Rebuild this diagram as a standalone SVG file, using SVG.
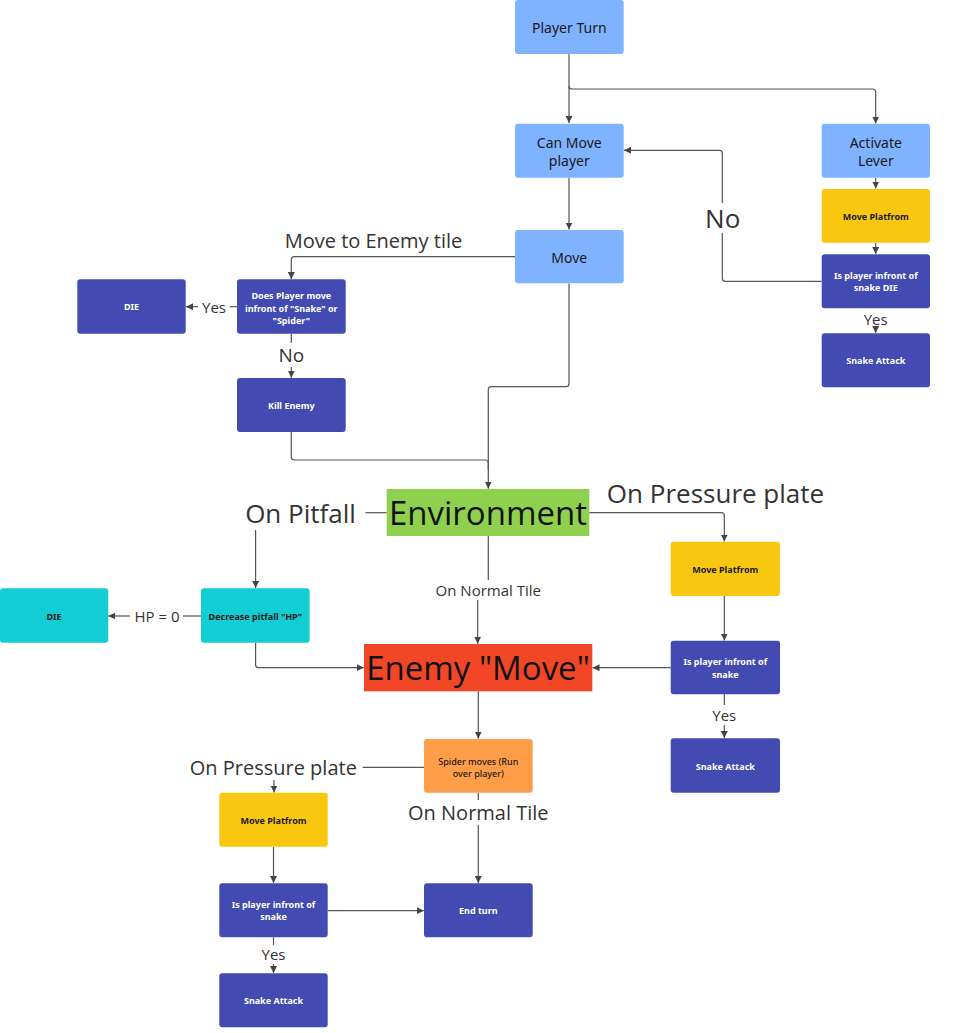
<svg xmlns="http://www.w3.org/2000/svg" width="967" height="1033" viewBox="0 0 967 1033">
<style>
.lb{fill:#80B3FF}
.db{fill:#414BB2}
.ye{fill:#FAC710}
.cy{fill:#12CDD4}
.or{fill:#FF9D48}
.gr{fill:#8FD14F}
.rd{fill:#F24726}
.t14{font-family:"Noto Sans",sans-serif;font-size:14px;fill:#1a1a1a;text-anchor:middle;dominant-baseline:central}
.sw{font-family:"Noto Sans",sans-serif;font-size:9px;font-weight:700;fill:#ffffff;text-anchor:middle;dominant-baseline:central}
.sd{font-family:"Noto Sans",sans-serif;font-size:9px;font-weight:700;fill:#1a1a1a;text-anchor:middle;dominant-baseline:central}
.sm{font-family:"Noto Sans",sans-serif;font-size:9px;font-weight:500;fill:#1a1a1a;text-anchor:middle;dominant-baseline:central}
.big{font-family:"Open Sans",sans-serif;font-size:33px;fill:#111;text-anchor:middle;dominant-baseline:central}
.lab{font-family:"Open Sans",sans-serif;fill:#333;text-anchor:middle;dominant-baseline:central}
.cn{fill:none;stroke:#555;stroke-width:1.2;stroke-linejoin:round}
</style>
<defs>
<marker id="ah" viewBox="0 0 10 10" refX="10" refY="5" markerWidth="7" markerHeight="7" markerUnits="userSpaceOnUse" orient="auto">
<path d="M0,0 L10,5 L0,10 z" fill="#444"/>
</marker>
</defs>
<rect width="967" height="1033" fill="#ffffff"/>

<g id="connectors">
<path class="cn" d="M569,54 V123" marker-end="url(#ah)"/>
<path class="cn" d="M569,86 Q569,89 572,89 H872.7 Q875.7,89 875.7,92 V123.5" marker-end="url(#ah)"/>
<path class="cn" d="M569,178 V229.5" marker-end="url(#ah)"/>
<path class="cn" d="M875.7,178 V188.5" marker-end="url(#ah)"/>
<path class="cn" d="M875.7,243 V254" marker-end="url(#ah)"/>
<path class="cn" d="M821.7,281.3 H725.3 Q722.3,281.3 722.3,278.3 V233"/>
<path class="cn" d="M722.3,203 V153.3 Q722.3,150.3 719.3,150.3 H624" marker-end="url(#ah)"/>
<path class="cn" d="M875.7,326 V333" marker-end="url(#ah)"/>
<path class="cn" d="M515,256.7 H294.3 Q291.3,256.7 291.3,259.7 V279" marker-end="url(#ah)"/>
<path class="cn" d="M237,306.7 H230"/>
<path class="cn" d="M198,306.7 H186" marker-end="url(#ah)"/>
<path class="cn" d="M291.3,333.7 V343"/>
<path class="cn" d="M291.3,367 V377.7" marker-end="url(#ah)"/>
<path class="cn" d="M569,283.5 V383.7 Q569,386.7 566,386.7 H491.3 Q488.3,386.7 488.3,389.7 V488.7" marker-end="url(#ah)"/>
<path class="cn" d="M291.3,432 V457 Q291.3,460 294.3,460 H485.3 Q488.3,460 488.3,463 V470"/>
<path class="cn" d="M386.7,512.7 H365.5"/>
<path class="cn" d="M255.6,530 V588" marker-end="url(#ah)"/>
<path class="cn" d="M589.3,512.7 H721.3 Q724.3,512.7 724.3,515.7 V541.5" marker-end="url(#ah)"/>
<path class="cn" d="M488.3,536 V580"/>
<path class="cn" d="M477.7,600 V643.7" marker-end="url(#ah)"/>
<path class="cn" d="M201,616 H183"/>
<path class="cn" d="M130,616 H108.3" marker-end="url(#ah)"/>
<path class="cn" d="M255.6,642.7 V664.7 Q255.6,667.7 258.6,667.7 H363.7" marker-end="url(#ah)"/>
<path class="cn" d="M724.3,596 V640.5" marker-end="url(#ah)"/>
<path class="cn" d="M670.7,667.7 H592.5" marker-end="url(#ah)"/>
<path class="cn" d="M724.3,694.3 V705"/>
<path class="cn" d="M724.3,725 V738" marker-end="url(#ah)"/>
<path class="cn" d="M478.3,691.3 V738.7" marker-end="url(#ah)"/>
<path class="cn" d="M424,767.3 H362.7"/>
<path class="cn" d="M274,780 V792.5" marker-end="url(#ah)"/>
<path class="cn" d="M478.3,792.7 V800"/>
<path class="cn" d="M478.3,825 V883" marker-end="url(#ah)"/>
<path class="cn" d="M273.5,846.7 V883" marker-end="url(#ah)"/>
<path class="cn" d="M327.7,910.7 H423.8" marker-end="url(#ah)"/>
<path class="cn" d="M273.5,937.3 V945"/>
<path class="cn" d="M273.5,964 V973" marker-end="url(#ah)"/>
</g>

<g id="labels">
<text class="lab" x="373.5" y="240.7" font-size="20">Move to Enemy tile</text>
<text class="lab" x="722.7" y="218" font-size="26">No</text>
<text class="lab" x="875.7" y="319" font-size="15">Yes</text>
<text class="lab" x="214" y="306.7" font-size="15">Yes</text>
<text class="lab" x="291.3" y="355" font-size="19">No</text>
<text class="lab" x="300.5" y="512.7" font-size="26">On Pitfall</text>
<text class="lab" x="715.5" y="492.7" font-size="26">On Pressure plate</text>
<text class="lab" x="488.3" y="589.5" font-size="15">On Normal Tile</text>
<text class="lab" x="157" y="616" font-size="15">HP = 0</text>
<text class="lab" x="724.3" y="715" font-size="15">Yes</text>
<text class="lab" x="273.3" y="767.3" font-size="20">On Pressure plate</text>
<text class="lab" x="478.3" y="812.7" font-size="20">On Normal Tile</text>
<text class="lab" x="273.5" y="954.3" font-size="15">Yes</text>
</g>

<g id="player-turn"><rect class="lb" x="515" y="0" width="108.7" height="54" rx="3"/><text class="t14" x="569.3" y="27">Player Turn</text></g>
<g id="can-move"><rect class="lb" x="515" y="123.7" width="108.7" height="54" rx="3"/><text class="t14" x="569.3" y="142">Can Move</text><text class="t14" x="569.3" y="160">player</text></g>
<g id="move"><rect class="lb" x="515" y="230" width="108.7" height="53.3" rx="3"/><text class="t14" x="569.3" y="257">Move</text></g>
<g id="activate-lever"><rect class="lb" x="821.7" y="123.7" width="108.3" height="54" rx="3"/><text class="t14" x="875.8" y="142">Activate</text><text class="t14" x="875.8" y="160">Lever</text></g>
<g id="move-platform-1"><rect class="ye" x="821.7" y="189" width="108.3" height="53.7" rx="3"/><text class="sd" x="875.8" y="216">Move Platfrom</text></g>
<g id="is-player-1"><rect class="db" x="821.7" y="254.3" width="108.3" height="54" rx="3"/><text class="sw" x="875.8" y="275.3">Is player infront of</text><text class="sw" x="875.8" y="287.8">snake DIE</text></g>
<g id="snake-attack-1"><rect class="db" x="821.7" y="333.3" width="108.3" height="54" rx="3"/><text class="sw" x="875.8" y="360.5">Snake Attack</text></g>
<g id="does-player"><rect class="db" x="237" y="279.3" width="108.7" height="54.4" rx="3"/><text class="sw" x="291.3" y="295.5">Does Player move</text><text class="sw" x="291.3" y="308">infront of "Snake" or</text><text class="sw" x="291.3" y="320.5">"Spider"</text></g>
<g id="die-1"><rect class="db" x="77.3" y="279.3" width="108.4" height="54.4" rx="3"/><text class="sw" x="131.5" y="306.7">DIE</text></g>
<g id="kill-enemy"><rect class="db" x="237" y="378" width="108.7" height="54" rx="3"/><text class="sw" x="291.3" y="405">Kill Enemy</text></g>
<g id="environment"><rect class="gr" x="386.7" y="489" width="202.6" height="47"/><text class="big" x="488" y="512">Environment</text></g>
<g id="decrease-hp"><rect class="cy" x="201" y="588.3" width="108.6" height="54.4" rx="3"/><text class="sd" x="255.3" y="616">Decrease pitfall "HP"</text></g>
<g id="die-2"><rect class="cy" x="0" y="588.3" width="108.3" height="54.4" rx="3"/><text class="sd" x="54" y="616">DIE</text></g>
<g id="enemy-move"><rect class="rd" x="364" y="644" width="228.3" height="47.3"/><text class="big" x="478" y="667">Enemy "Move"</text></g>
<g id="move-platform-2"><rect class="ye" x="670.7" y="541.7" width="109.3" height="54.3" rx="3"/><text class="sd" x="725.3" y="569">Move Platfrom</text></g>
<g id="is-player-2"><rect class="db" x="670.7" y="640.7" width="109.3" height="53.6" rx="3"/><text class="sw" x="725.3" y="661.5">Is player infront of</text><text class="sw" x="725.3" y="674">snake</text></g>
<g id="snake-attack-2"><rect class="db" x="670.7" y="738.3" width="109.3" height="54.4" rx="3"/><text class="sw" x="725.3" y="766">Snake Attack</text></g>
<g id="spider-moves"><rect class="or" x="424" y="739" width="108.7" height="53.7" rx="3"/><text class="sm" x="478.3" y="761.3">Spider moves (Run</text><text class="sm" x="478.3" y="773.8">over player)</text></g>
<g id="move-platform-3"><rect class="ye" x="219.3" y="792.7" width="108.4" height="54" rx="3"/><text class="sd" x="273.5" y="820.5">Move Platfrom</text></g>
<g id="is-player-3"><rect class="db" x="219.3" y="883.3" width="108.4" height="54" rx="3"/><text class="sw" x="273.5" y="904.2">Is player infront of</text><text class="sw" x="273.5" y="916.8">snake</text></g>
<g id="end-turn"><rect class="db" x="424" y="883.3" width="108.7" height="54" rx="3"/><text class="sw" x="478.3" y="910.7">End turn</text></g>
<g id="snake-attack-3"><rect class="db" x="219.3" y="973.3" width="108.4" height="54" rx="3"/><text class="sw" x="273.5" y="1000.3">Snake Attack</text></g>
</svg>
